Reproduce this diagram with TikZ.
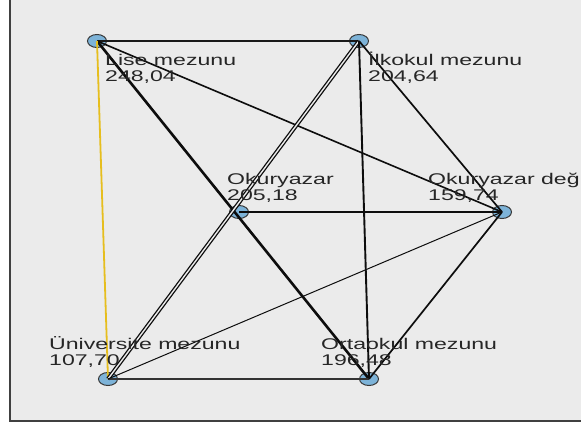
\documentclass[tikz,border=0pt]{standalone}
\usepackage{fontspec}
\newfontfamily\lblfont[FakeStretch=1.49]{Liberation Sans}
\definecolor{bggray}{HTML}{EBEBEB}
\definecolor{nodeblue}{HTML}{7DB3D8}
\definecolor{edgegold}{HTML}{E6BE1E}
\definecolor{txt}{HTML}{262626}
\tikzset{
  vert/.style={ellipse, minimum width=19pt, minimum height=13pt, inner sep=0pt, draw=black!78, line width=1pt, fill=nodeblue},
  lbl/.style={anchor=base west, inner sep=0pt, text=txt, font=\lblfont\fontsize{15.5}{16.5}\selectfont},
  edge/.style={draw=black!95, line width=1.7pt},
}
\usetikzlibrary{shapes.geometric}
\begin{document}
\begin{tikzpicture}[x=1pt,y=-1pt]
\useasboundingbox (0,0) rectangle (581,423);
\fill[white] (0,0) rectangle (581,423);
\begin{scope}
\clip (0,0) rectangle (581,423);
\draw[fill=bggray, draw=black!75, line width=2pt] (10,-10) rectangle (600,420.5);
% nodes
\node[vert] (lise) at (97,41) {};
\node[vert] (ilk) at (359,41) {};
\node[vert] (oky) at (239,212) {};
\node[vert] (okd) at (502,212) {};
\node[vert] (uni) at (108,379) {};
\node[vert] (orta) at (369,379) {};
% edges
\draw[edge, line width=2.4pt, draw=black!90] (lise.center) -- (ilk.center);
\draw[edge, line width=2.6pt] (lise.center) -- (orta.center);
\draw[edge, line width=1.6pt] (lise.center) -- (okd.center);
\draw[edge, draw=edgegold, line width=1.8pt] (lise.center) -- (uni.center);
\draw[edge, double=bggray, double distance=1.4pt, line width=1.3pt] (ilk.center) -- (uni.center);
\draw[edge, line width=1.9pt] (ilk.center) -- (orta.center);
\draw[edge] (ilk.center) -- (okd.center);
\draw[edge] (oky.center) -- (okd.center);
\draw[edge, draw=black!80, line width=2.4pt] (uni.center) -- (orta.center);
\draw[edge, line width=1pt] (uni.center) -- (okd.center);
\draw[edge] (orta.center) -- (okd.center);
% labels
\node[lbl] (liseT) at (105,65) {\begin{tabular}[t]{@{}l@{}}Lise mezunu\\248,04\end{tabular}};
\node[lbl] (ilkT) at (368,65) {\begin{tabular}[t]{@{}l@{}}İlkokul mezunu\\204,64\end{tabular}};
\node[lbl] (okyT) at (227,184) {\begin{tabular}[t]{@{}l@{}}Okuryazar\\205,18\end{tabular}};
\node[lbl] (okdT) at (428,184) {\begin{tabular}[t]{@{}l@{}}Okuryazar değil\\159,74\end{tabular}};
\node[lbl] (uniT) at (49,349) {\begin{tabular}[t]{@{}l@{}}Üniversite mezunu\\107,70\end{tabular}};
\node[lbl] (ortaT) at (321,349) {\begin{tabular}[t]{@{}l@{}}Ortaokul mezunu\\196,48\end{tabular}};
\end{scope}
\end{tikzpicture}
\end{document}
